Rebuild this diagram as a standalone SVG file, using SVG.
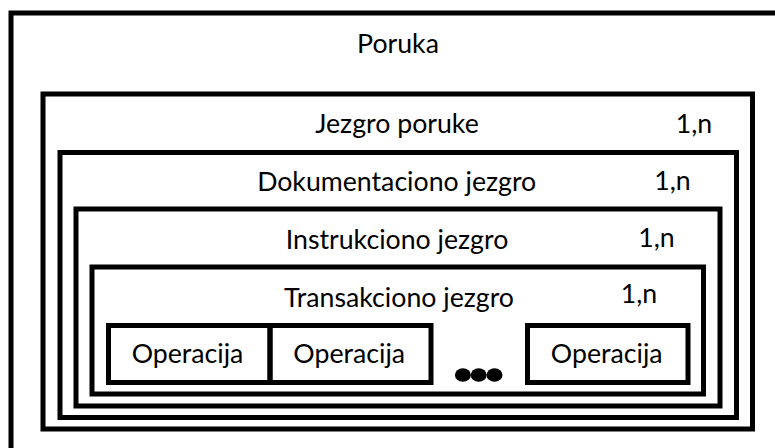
<svg xmlns="http://www.w3.org/2000/svg" width="775" height="448" viewBox="0 0 775 448">
<style>
.box{fill:none;stroke:#000;stroke-width:5}
.t{font-family:Lato,"Liberation Sans",sans-serif;font-size:26.7px;fill:#000;text-anchor:middle}
.dot{fill:#000}
</style>
<rect width="775" height="448" fill="#fff"/>
<g id="poruka">
<rect class="box" x="11" y="13" width="800" height="500"/>
<text class="t" x="398" y="53">Poruka</text>
</g>
<g id="jezgro-poruke">
<rect class="box" x="43" y="94" width="709.5" height="335"/>
<text class="t" x="397" y="133">Jezgro poruke</text>
<text class="t" x="694" y="132.5">1,n</text>
</g>
<g id="dokumentaciono-jezgro">
<rect class="box" x="60" y="152.5" width="676.5" height="265"/>
<text class="t" x="396.7" y="190.5">Dokumentaciono jezgro</text>
<text class="t" x="672.5" y="190">1,n</text>
</g>
<g id="instrukciono-jezgro">
<rect class="box" x="76" y="209" width="644" height="197"/>
<text class="t" x="397" y="249">Instrukciono jezgro</text>
<text class="t" x="656.5" y="246.7">1,n</text>
</g>
<g id="transakciono-jezgro">
<rect class="box" x="92" y="267" width="611.5" height="127"/>
<text class="t" x="399" y="306.5">Transakciono jezgro</text>
<text class="t" x="639" y="303.3">1,n</text>
</g>
<g id="operacija-1">
<rect class="box" x="108.5" y="325.5" width="161.5" height="57"/>
<text class="t" x="187.5" y="363">Operacija</text>
</g>
<g id="operacija-2">
<rect class="box" x="270" y="325.5" width="161" height="57"/>
<text class="t" x="349.2" y="363">Operacija</text>
</g>
<g id="ellipsis">
<ellipse class="dot" cx="462.9" cy="375" rx="8" ry="6.7"/>
<ellipse class="dot" cx="478.7" cy="375" rx="8" ry="6.7"/>
<ellipse class="dot" cx="494.5" cy="375" rx="8" ry="6.7"/>
</g>
<g id="operacija-3">
<rect class="box" x="527.5" y="325.5" width="160.5" height="57"/>
<text class="t" x="606.7" y="363">Operacija</text>
</g>
<g id="connectors"></g>
</svg>
